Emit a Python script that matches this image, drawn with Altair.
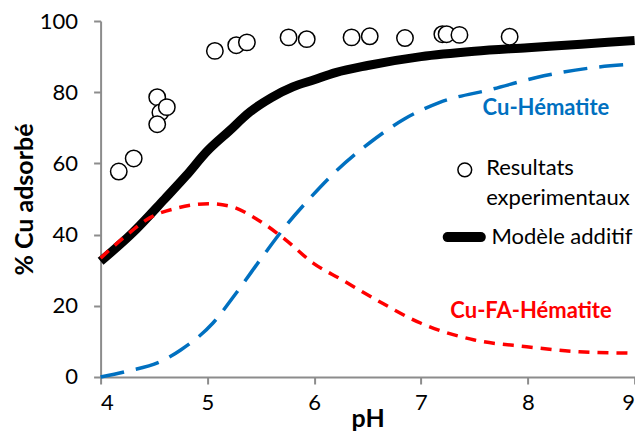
import altair as alt
import pandas as pd

# Experimental points (Resultats experimentaux)
exp_ph = [4.17, 4.31, 4.53, 4.56, 4.53, 4.62, 5.07, 5.27, 5.37, 5.76, 5.93,
          6.35, 6.52, 6.85, 7.20, 7.24, 7.36, 7.83]
exp_cu = [57.7, 61.4, 78.6, 74.3, 71.0, 75.8, 91.6, 93.2, 94.0, 95.4, 94.9,
          95.4, 95.7, 95.2, 96.3, 96.3, 96.1, 95.6]

# Modèle additif
model_ph = [4.0, 4.3, 4.6, 4.8, 5.0, 5.2, 5.4, 5.6, 5.8, 6.0, 6.2, 6.5, 7.0, 7.5, 8.0, 8.5, 9.0]
model_cu = [32.5, 40.5, 50.0, 56.5, 63.5, 69.0, 74.5, 78.5, 81.5, 83.5, 85.5, 87.5, 90.0, 91.5, 92.5, 93.5, 94.5]

# Cu-Hématite
hem_ph = [4.0, 4.23, 4.56, 4.75, 5.05, 5.27, 5.54, 5.73, 5.95, 6.19, 6.52, 6.84, 7.17, 7.66, 8.15, 8.64, 9.0]
hem_cu = [0.0, 1.5, 4.3, 7.6, 15.1, 23.6, 34.8, 42.3, 49.9, 57.4, 65.8, 72.4, 77.1, 80.8, 84.6, 87.0, 87.9]

# Cu-FA-Hématite
fa_ph = [4.0, 4.23, 4.46, 4.72, 5.01, 5.21, 5.47, 5.73, 5.99, 6.26, 6.58, 7.0, 7.5, 7.99, 8.48, 9.0]
fa_cu = [33.4, 39.5, 44.7, 47.5, 48.7, 48.0, 44.2, 38.6, 32.0, 27.3, 21.7, 15.1, 10.4, 8.5, 7.1, 6.7]

# Annotations (text labels and hand-drawn legend), in data coordinates
label_text = ["Cu-Hématite", "Cu-FA-Hématite"]
label_ph = [8.17, 8.03]
label_cu = [75.6, 18.5]
label_color = ["#0070C0", "#FF0000"]

legend_text = ["Resultats", "experimentaux", "Modèle additif"]
legend_text_ph = [7.61, 7.61, 7.66]
legend_text_cu = [58.6, 50.2, 39.3]
legend_marker_ph = [7.41]
legend_marker_cu = [58.2]
legend_line_ph = [7.25, 7.56]
legend_line_cu = [39.3, 39.3]

FONT = "Lato"

xs = alt.Scale(domain=[4, 9], nice=False, zero=False)
ys = alt.Scale(domain=[0, 100], nice=False)

X = alt.X("ph:Q", scale=xs, axis=alt.Axis(values=[4, 5, 6, 7, 8, 9], title="pH"))
Y = alt.Y("cu:Q", scale=ys, axis=alt.Axis(values=[0, 20, 40, 60, 80, 100], title="% Cu adsorbé"))

model = alt.Chart(pd.DataFrame({"ph": model_ph, "cu": model_cu})).mark_line(
    color="black", strokeWidth=9, interpolate="monotone", strokeCap="butt"
).encode(x=X, y=Y)

hem = alt.Chart(pd.DataFrame({"ph": hem_ph, "cu": hem_cu})).mark_line(
    color="#0070C0", strokeWidth=3.5, strokeDash=[24, 12], interpolate="monotone"
).encode(x=X, y=Y)

fa = alt.Chart(pd.DataFrame({"ph": fa_ph, "cu": fa_cu})).mark_line(
    color="#FF0000", strokeWidth=3.5, strokeDash=[11, 8], interpolate="monotone"
).encode(x=X, y=Y)

pts = alt.Chart(pd.DataFrame({"ph": exp_ph, "cu": exp_cu})).mark_point(
    shape="circle", size=270, filled=True, fill="white", stroke="black", strokeWidth=1.5, opacity=1
).encode(x=X, y=Y)

labels = alt.Chart(pd.DataFrame({"ph": label_ph, "cu": label_cu, "t": label_text, "c": label_color})).mark_text(
    font=FONT, fontSize=22, fontWeight="bold", align="center", baseline="middle"
).encode(x=X, y=Y, text="t:N", color=alt.Color("c:N", scale=None))

leg_text = alt.Chart(pd.DataFrame({"ph": legend_text_ph, "cu": legend_text_cu, "t": legend_text})).mark_text(
    font=FONT, fontSize=22, align="left", baseline="middle", color="black"
).encode(x=X, y=Y, text="t:N")

leg_marker = alt.Chart(pd.DataFrame({"ph": legend_marker_ph, "cu": legend_marker_cu})).mark_point(
    shape="circle", size=190, filled=True, fill="white", stroke="black", strokeWidth=1.5, opacity=1
).encode(x=X, y=Y)

leg_line = alt.Chart(pd.DataFrame({"ph": legend_line_ph, "cu": legend_line_cu})).mark_line(
    color="black", strokeWidth=10, strokeCap="round"
).encode(x=X, y=Y)

chart = alt.layer(model, hem, fa, pts, labels, leg_text, leg_marker, leg_line).properties(
    width=534, height=356,
    autosize=alt.AutoSizeParams(type="none"),
    padding={"left": 92.6, "top": 13, "right": 0, "bottom": 56}
).configure_view(stroke=None).configure_axis(
    grid=False,
    domainColor="#8c8c8c", domainWidth=2,
    tickColor="#8c8c8c", tickWidth=2, tickSize=7,
    labelFont=FONT, labelFontSize=22, labelColor="black",
    titleFont=FONT, titleFontSize=25, titleFontWeight="bold", titleColor="black",
).configure_axisY(labelPadding=16, titleX=-76, titleBaseline="middle").configure_axisX(
    labelPadding=9, titleY=50, titleBaseline="alphabetic")

chart.save("out.html", embed_options={"renderer": "svg", "actions": False})
